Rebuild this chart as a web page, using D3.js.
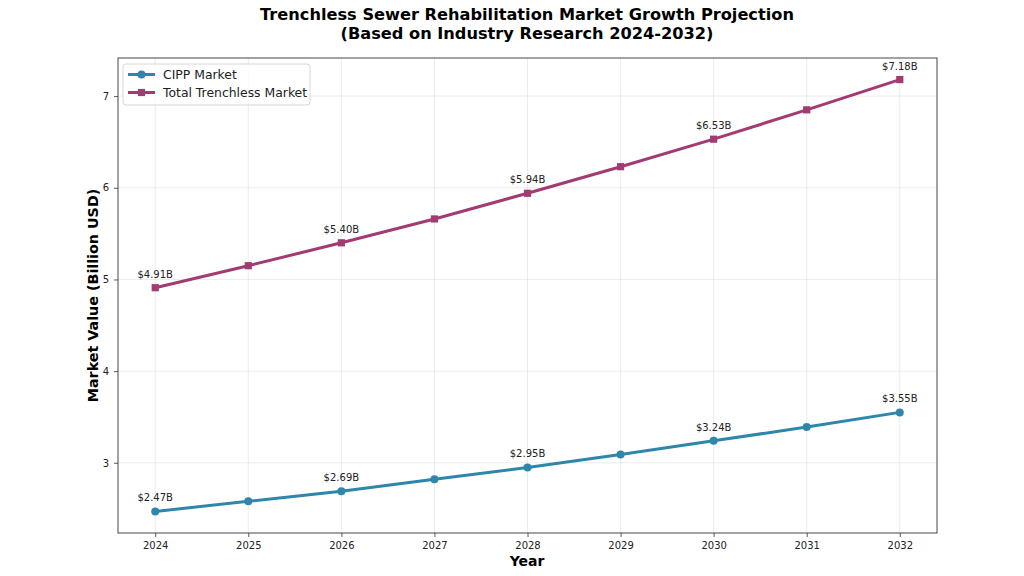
<!DOCTYPE html>
<html><head><meta charset="utf-8">
<script src="https://cdn.jsdelivr.net/npm/d3@7"></script>
<style>body{margin:0;background:#fff;} text{font-family:"DejaVu Sans",sans-serif;}</style>
</head><body>
<svg id="c" width="1024" height="576"></svg>
<script>
const years = [2024, 2025, 2026, 2027, 2028, 2029, 2030, 2031, 2032];
const cippValues = [2.47, 2.58, 2.69, 2.82, 2.95, 3.09, 3.24, 3.39, 3.55];
const totalValues = [4.91, 5.15, 5.40, 5.66, 5.94, 6.23, 6.53, 6.85, 7.18];
const yTicks = [3, 4, 5, 6, 7];
const seriesNames = ["CIPP Market", "Total Trenchless Market"];
const seriesColors = ["#2E86AB", "#A23B72"];

const svg = d3.select("#c");
const L = 118, R = 937, T = 58, B = 533;
const x = d3.scaleLinear().domain([2023.6, 2032.4]).range([L, R]);
const yMin = 2.2345, yMax = 7.4155;
const y = d3.scaleLinear().domain([yMin, yMax]).range([B, T]);

// grid
const g = svg.append("g");
g.selectAll("line.gx").data(years).enter().append("line")
  .attr("x1", d => x(d)).attr("x2", d => x(d)).attr("y1", T).attr("y2", B)
  .attr("stroke", "#b0b0b0").attr("stroke-opacity", 0.3).attr("stroke-width", 0.8);
g.selectAll("line.gy").data(yTicks).enter().append("line")
  .attr("x1", L).attr("x2", R).attr("y1", d => y(d)).attr("y2", d => y(d))
  .attr("stroke", "#b0b0b0").attr("stroke-opacity", 0.3).attr("stroke-width", 0.8);

// axes
const xAxis = d3.axisBottom(x).tickValues(years).tickFormat(d3.format("d")).tickSize(4).tickPadding(5);
const yAxis = d3.axisLeft(y).tickValues(yTicks).tickFormat(d3.format("d")).tickSize(4).tickPadding(5);
const ax = svg.append("g").attr("transform", `translate(0,${B})`).call(xAxis);
const ay = svg.append("g").attr("transform", `translate(${L},0)`).call(yAxis);
[ax, ay].forEach(a => {
  a.select(".domain").remove();
  a.selectAll("text").attr("font-size", 10).attr("fill", "#222").style("font-family", "DejaVu Sans");
  a.selectAll("line").attr("stroke", "#333").attr("stroke-width", 0.8);
});
svg.append("rect").attr("x", L).attr("y", T).attr("width", R - L).attr("height", B - T)
  .attr("fill", "none").attr("stroke", "#333").attr("stroke-width", 0.9);

// lines
const data = [cippValues, totalValues];
const line = d3.line().x((d, i) => x(years[i])).y(d => y(d));
data.forEach((vals, s) => {
  svg.append("path").datum(vals).attr("d", line).attr("fill", "none")
    .attr("stroke", seriesColors[s]).attr("stroke-width", 3).attr("stroke-linejoin", "round");
  if (s === 0) {
    svg.selectAll(null).data(vals).enter().append("circle")
      .attr("cx", (d, i) => x(years[i])).attr("cy", d => y(d)).attr("r", 4)
      .attr("fill", seriesColors[s]);
  } else {
    svg.selectAll(null).data(vals).enter().append("rect")
      .attr("x", (d, i) => x(years[i]) - 3.6).attr("y", d => y(d) - 3.6)
      .attr("width", 7.2).attr("height", 7.2).attr("fill", seriesColors[s]);
  }
  svg.selectAll(null).data(vals.map((v, i) => [v, i]).filter(d => d[1] % 2 === 0)).enter().append("text")
    .attr("x", d => x(years[d[1]])).attr("y", d => y(d[0]) - 10)
    .attr("text-anchor", "middle").attr("font-size", 10).attr("fill", "#222")
    .text(d => "$" + d[0].toFixed(2) + "B");
});

// titles
svg.append("text").attr("x", 527).attr("y", 20).attr("text-anchor", "middle")
  .attr("font-size", 16.2).attr("font-weight", "bold").attr("fill", "#000")
  .text("Trenchless Sewer Rehabilitation Market Growth Projection");
svg.append("text").attr("x", 527).attr("y", 39).attr("text-anchor", "middle")
  .attr("font-size", 16.2).attr("font-weight", "bold").attr("fill", "#000")
  .text("(Based on Industry Research 2024-2032)");
svg.append("text").attr("x", 527).attr("y", 566).attr("text-anchor", "middle")
  .attr("font-size", 14).attr("font-weight", "bold").attr("fill", "#000").text("Year");
svg.append("text").attr("transform", `translate(98,${(T + B) / 2}) rotate(-90)`).attr("text-anchor", "middle")
  .attr("font-size", 14.3).attr("font-weight", "bold").attr("fill", "#000").text("Market Value (Billion USD)");

// legend
const lg = svg.append("g");
lg.append("rect").attr("x", 123).attr("y", 64).attr("width", 187).attr("height", 41).attr("rx", 3)
  .attr("fill", "#fff").attr("fill-opacity", 0.8).attr("stroke", "#ccc").attr("stroke-width", 0.8);
seriesNames.forEach((n, i) => {
  const yy = 74.5 + i * 18;
  lg.append("line").attr("x1", 128).attr("x2", 155).attr("y1", yy).attr("y2", yy)
    .attr("stroke", seriesColors[i]).attr("stroke-width", 3);
  if (i === 0) lg.append("circle").attr("cx", 141.5).attr("cy", yy).attr("r", 4).attr("fill", seriesColors[i]);
  else lg.append("rect").attr("x", 137.9).attr("y", yy - 3.6).attr("width", 7.2).attr("height", 7.2).attr("fill", seriesColors[i]);
  lg.append("text").attr("x", 163).attr("y", yy + 4.5).attr("font-size", 12.4).attr("fill", "#222").text(n);
});
</script>
</body></html>
